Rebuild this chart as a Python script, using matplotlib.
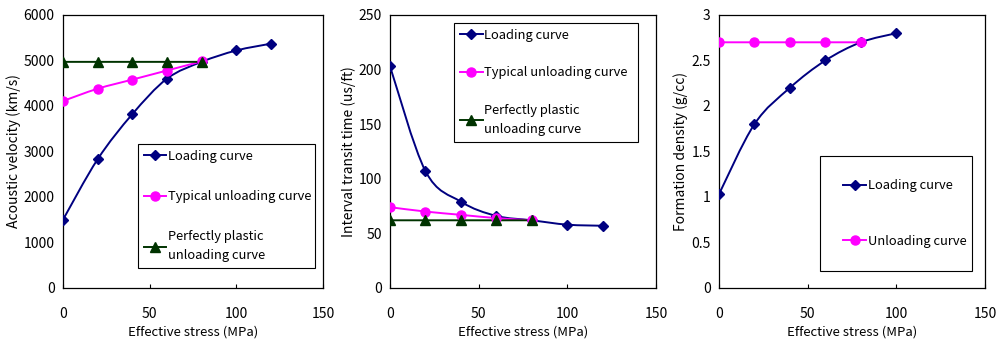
import matplotlib
matplotlib.use("Agg")
import matplotlib.pyplot as plt
from matplotlib.path import Path
from matplotlib.patches import PathPatch
import matplotlib.lines as mlines

plt.rcParams['font.family'] = ['Noto Sans CJK KR', 'DejaVu Sans']

# datos
stress_load = [0, 20, 40, 60, 80, 100, 120]
stress_unload = [0, 20, 40, 60, 80]
stress_dens = [0, 20, 40, 60, 80, 100]

vel_load = [1500, 2830, 3820, 4600, 4970, 5220, 5370]
vel_typ = [4110, 4380, 4580, 4780, 4980]
vel_plast = [4970, 4970, 4970, 4970, 4970]

itt_load = [203, 107, 79, 66, 62, 58, 57]
itt_typ = [74, 70, 67, 64, 62]
itt_plast = [62, 62, 62, 62, 62]

dens_load = [1.03, 1.8, 2.2, 2.5, 2.7, 2.8]
dens_unload = [2.7, 2.7, 2.7, 2.7, 2.7]

NAVY = "#000080"
MAGENTA = "#FF00FF"
GREEN = "#003300"


def curva_suave(ax, xs, ys, color, marker, ms):
    # curva tipo Excel (Bezier) que pasa por los puntos
    pts = list(zip(xs, ys))
    n = len(pts)
    verts = [pts[0]]
    codes = [Path.MOVETO]
    for i in range(n - 1):
        p0 = pts[i - 1] if i > 0 else pts[i]
        p1 = pts[i]
        p2 = pts[i + 1]
        p3 = pts[i + 2] if i + 2 < n else pts[i + 1]
        c1 = (p1[0] + (p2[0] - p0[0]) / 6, p1[1] + (p2[1] - p0[1]) / 6)
        c2 = (p2[0] - (p3[0] - p1[0]) / 6, p2[1] - (p3[1] - p1[1]) / 6)
        verts += [c1, c2, p2]
        codes += [Path.CURVE4] * 3
    ax.add_patch(PathPatch(Path(verts, codes), facecolor="none", edgecolor=color,
                           lw=1.4, zorder=2))
    ax.plot(xs, ys, linestyle="none", marker=marker, ms=ms, color=color, zorder=3)
    return mlines.Line2D([], [], color=color, lw=1.4, marker=marker, ms=ms)


def estilo(ax, ymax, ystep, ylabel):
    ax.set_xlim(0, 150)
    ax.set_ylim(0, ymax)
    ax.set_xticks([0, 50, 100, 150])
    ax.set_yticks([i * ystep for i in range(int(round(ymax / ystep)) + 1)])
    ax.tick_params(axis="x", direction="in", length=3, width=0.8, labelsize=10, pad=14)
    ax.tick_params(axis="y", length=0, labelsize=10, pad=6)
    ax.set_xlabel("Effective stress (MPa)", fontsize=9.5, labelpad=3)
    ax.set_ylabel(ylabel, fontsize=10, labelpad=2)
    for s in ax.spines.values():
        s.set_linewidth(0.9)


def leyenda(ax, handles, labels, bbox, spacing, bpad):
    leg = ax.legend(handles, labels, loc="upper left", bbox_to_anchor=bbox, mode="expand",
                    fancybox=False, edgecolor="black", framealpha=1, fontsize=9.3,
                    handlelength=1.75, handletextpad=0.15, labelspacing=spacing,
                    borderpad=bpad, borderaxespad=0)
    leg.get_frame().set_linewidth(0.8)
    for t in leg.get_texts():
        t.set_linespacing(1.6)
    return leg


fig = plt.figure(figsize=(9.98, 3.44), dpi=100)
ax1 = fig.add_axes([0.0631, 0.1628, 0.2605, 0.7936])
ax2 = fig.add_axes([0.3908, 0.1628, 0.2665, 0.7936])
ax3 = fig.add_axes([0.7204, 0.1628, 0.2665, 0.7936])

# panel 1
h1 = curva_suave(ax1, stress_load, vel_load, NAVY, "D", 5.5)
h2 = curva_suave(ax1, stress_unload, vel_typ, MAGENTA, "o", 6.5)
h3 = curva_suave(ax1, stress_unload, vel_plast, GREEN, "^", 6.5)
estilo(ax1, 6000, 1000, "Acoustic velocity (km/s)")
leyenda(ax1, [h1, h2, h3], ["Loading curve", "Typical unloading curve",
                            "Perfectly plastic\nunloading curve"],
        (0.288, 0.073, 0.681, 0.454), 2.1, 0.45)

# panel 2
g1 = curva_suave(ax2, stress_load, itt_load, NAVY, "D", 5.5)
g2 = curva_suave(ax2, stress_unload, itt_typ, MAGENTA, "o", 6.5)
g3 = curva_suave(ax2, stress_unload, itt_plast, GREEN, "^", 6.5)
estilo(ax2, 250, 50, "Interval transit time (us/ft)")
leyenda(ax2, [g1, g2, g3], ["Loading curve", "Typical unloading curve",
                            "Perfectly plastic\nunloading curve"],
        (0.241, 0.527, 0.691, 0.444), 1.9, 0.45)

# panel 3
k1 = curva_suave(ax3, stress_dens, dens_load, NAVY, "D", 5.5)
k2 = curva_suave(ax3, stress_unload, dens_unload, MAGENTA, "o", 6.5)
estilo(ax3, 3, 0.5, "Formation density (g/cc)")
ax3.set_yticks([0, 0.5, 1, 1.5, 2, 2.5, 3])
ax3.set_yticklabels(["0", "0.5", "1", "1.5", "2", "2.5", "3"])
leyenda(ax3, [k1, k2], ["Loading curve", "Unloading curve"],
        (0.380, 0.073, 0.571, 0.411), 3.3, 1.8)

fig.savefig("out.png", dpi=100)
